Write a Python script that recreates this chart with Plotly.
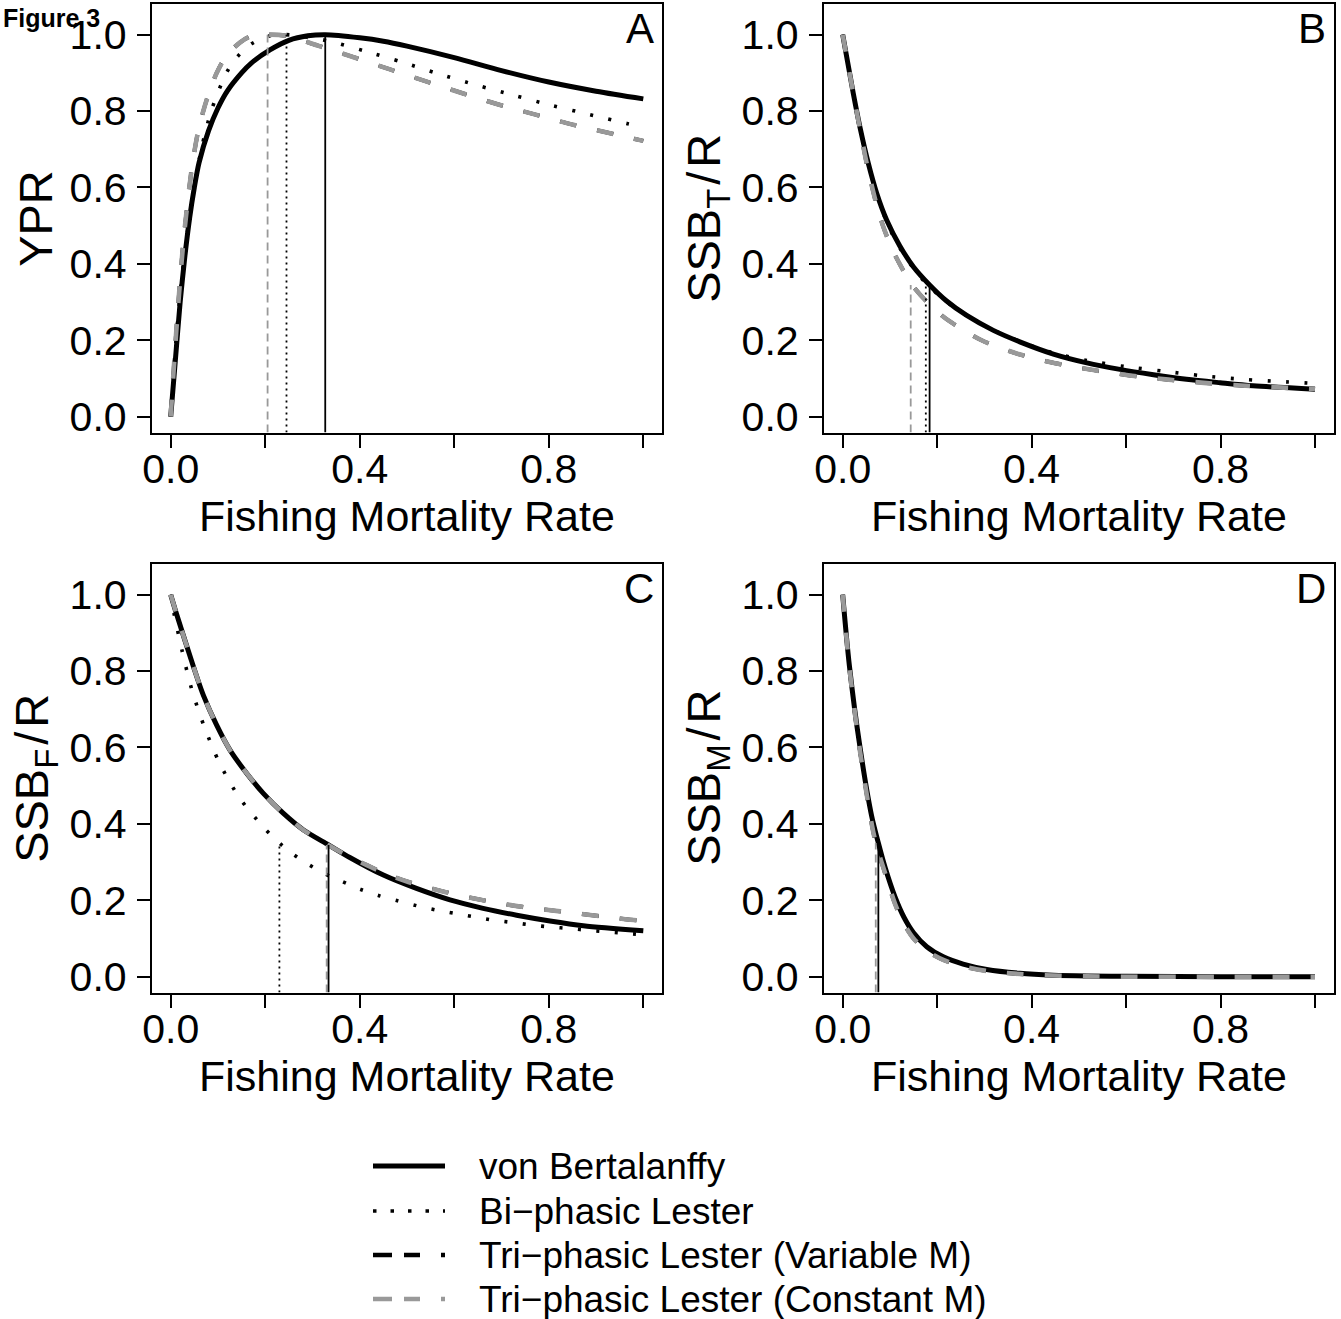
import plotly.graph_objects as go

FONT = "Liberation Sans, Arial, Helvetica, sans-serif"
GRAY = "#999999"

# ---------------- data ----------------
# Panel A : yield per recruit (relative)
F_A_vb = [0, 0.01, 0.02, 0.03, 0.04, 0.05, 0.06, 0.08, 0.10, 0.12, 0.15, 0.17, 0.21, 0.25, 0.29, 0.327,
          0.40, 0.45, 0.50, 0.60, 0.70, 0.80, 0.90, 1.00]
YPR_vb = [0, 0.15, 0.30, 0.42, 0.52, 0.60, 0.665, 0.748, 0.808, 0.853, 0.90, 0.925, 0.96, 0.985, 0.997, 1.0,
          0.992, 0.983, 0.97, 0.94, 0.906, 0.876, 0.852, 0.832]
F_A_bp = [0, 0.01, 0.024, 0.044, 0.066, 0.087, 0.118, 0.141, 0.171, 0.21, 0.245, 0.332, 0.411, 0.49, 0.568,
          0.647, 0.727, 0.806, 0.886, 0.967, 1.0]
YPR_bp = [0, 0.18, 0.37, 0.558, 0.707, 0.805, 0.90, 0.942, 0.976, 0.997, 1.0, 0.984, 0.957, 0.928, 0.897,
          0.868, 0.841, 0.815, 0.791, 0.767, 0.758]
F_A_cm = [0, 0.0127, 0.027, 0.044, 0.0585, 0.076, 0.097, 0.118, 0.147, 0.168, 0.205, 0.245, 0.31, 0.387,
          0.464, 0.542, 0.619, 0.697, 0.774, 0.852, 0.93, 1.0]
YPR_cm = [0, 0.24, 0.46, 0.645, 0.75, 0.829, 0.899, 0.945, 0.98, 0.995, 1.0, 0.997, 0.972, 0.941,
          0.909, 0.877, 0.846, 0.816, 0.79, 0.764, 0.742, 0.722]
F_A_vm, YPR_vm = F_A_cm, YPR_cm

# Panel B : total spawning stock biomass per recruit
F_B_vb = [0, 0.0226, 0.0367, 0.0543, 0.072, 0.093, 0.121, 0.15, 0.184, 0.22, 0.2625, 0.319, 0.375, 0.446,
          0.517, 0.587, 0.658, 0.728, 0.799, 0.869, 1.0]
SSBT_vb = [1.0, 0.845, 0.757, 0.663, 0.585, 0.515, 0.447, 0.392, 0.345, 0.303, 0.265, 0.226, 0.196, 0.164,
           0.141, 0.124, 0.11, 0.098, 0.089, 0.081, 0.072]
F_B_bp = [0, 0.0226, 0.0543, 0.093, 0.121, 0.15, 0.176, 0.2145, 0.2625, 0.319, 0.375, 0.446, 0.517, 0.6,
          0.681, 0.763, 0.846, 0.927, 1.0]
SSBT_bp = [1.0, 0.845, 0.66, 0.51, 0.442, 0.388, 0.35, 0.306, 0.264, 0.227, 0.197, 0.167, 0.147, 0.131,
           0.119, 0.107, 0.098, 0.092, 0.087]
F_B_cm = [0, 0.0226, 0.0367, 0.051, 0.07, 0.086, 0.105, 0.125, 0.144, 0.165, 0.2, 0.226, 0.294, 0.372,
          0.45, 0.531, 0.608, 0.69, 0.771, 0.852, 0.933, 1.0]
SSBT_cm = [1.0, 0.845, 0.752, 0.662, 0.563, 0.497, 0.438, 0.39, 0.35, 0.318, 0.275, 0.25, 0.2, 0.164,
           0.14, 0.122, 0.108, 0.097, 0.088, 0.081, 0.076, 0.073]
F_B_vm, SSBT_vm = F_B_cm, SSBT_cm

# Panel C : female spawning stock biomass per recruit
F_C_vb = [0, 0.0127, 0.048, 0.069, 0.097, 0.1255, 0.161, 0.196, 0.238, 0.281, 0.334, 0.379, 0.45, 0.52,
          0.591, 0.661, 0.732, 0.8025, 0.873, 1.0]
SSBF_vb = [1.0, 0.948, 0.812, 0.737, 0.659, 0.593, 0.532, 0.48, 0.428, 0.384, 0.345, 0.312, 0.266, 0.231,
           0.201, 0.179, 0.161, 0.146, 0.1335, 0.12]
F_C_bp = [0, 0.007, 0.0247, 0.045, 0.0712, 0.103, 0.144, 0.195, 0.23, 0.256, 0.29, 0.325, 0.363, 0.401,
          0.441, 0.48, 0.52, 0.56, 0.6, 0.641, 0.682, 0.723, 0.764, 0.805, 0.846, 0.886, 0.927, 0.968, 1.0]
SSBF_bp = [1.0, 0.951, 0.85, 0.75, 0.654, 0.56, 0.471, 0.393, 0.35, 0.323, 0.295, 0.27, 0.249, 0.229,
           0.212, 0.199, 0.186, 0.175, 0.166, 0.157, 0.148, 0.142, 0.135, 0.13, 0.126, 0.121, 0.117, 0.113, 0.11]
F_C_cm = [0, 0.0127, 0.048, 0.069, 0.097, 0.1255, 0.161, 0.196, 0.238, 0.281, 0.33, 0.379, 0.415, 0.45,
          0.503, 0.58, 0.661, 0.743, 0.824, 0.905, 0.985, 1.0]
SSBF_cm = [1.0, 0.948, 0.812, 0.737, 0.659, 0.593, 0.532, 0.48, 0.428, 0.384, 0.347, 0.313, 0.292, 0.272,
           0.248, 0.222, 0.2, 0.183, 0.171, 0.159, 0.148, 0.147]
F_C_vm, SSBF_vm = F_C_cm, SSBF_cm

# Panel D : male spawning stock biomass per recruit
F_D_vb = [0, 0.0141, 0.0367, 0.0614, 0.0755, 0.09, 0.111, 0.13, 0.15, 0.178, 0.213, 0.255, 0.305, 0.375,
          0.446, 0.517, 0.6, 0.8, 1.0]
SSBM_vb = [1.0, 0.815, 0.6, 0.42, 0.35, 0.285, 0.208, 0.155, 0.115, 0.0785, 0.052, 0.033, 0.019, 0.009,
           0.004, 0.002, 0.001, 0.0, 0.0]
F_D_cm = [0, 0.0141, 0.0367, 0.0614, 0.07, 0.09, 0.111, 0.13, 0.15, 0.178, 0.213, 0.255, 0.305, 0.375,
          0.446, 0.517, 0.6, 0.8, 1.0]
SSBM_cm = [1.0, 0.81, 0.59, 0.40, 0.35, 0.27, 0.19, 0.138, 0.1, 0.068, 0.044, 0.027, 0.015, 0.007,
           0.003, 0.001, 0.0, 0.0, 0.0]
F_D_vm, SSBM_vm = F_D_cm, SSBM_cm

# Reference points (vertical lines): [F, curve value]
REF_A = {"vb": [0.327, 1.0], "bp": [0.245, 1.0], "cm": [0.205, 1.0]}
REF_B = {"vb": [0.184, 0.345], "bp": [0.176, 0.35], "cm": [0.144, 0.345]}
REF_C = {"vb": [0.334, 0.345], "bp": [0.23, 0.35], "cm": [0.33, 0.345]}
REF_D = {"vb": [0.0755, 0.35], "cm": [0.07, 0.35]}

X_TICKS = [0, 0.2, 0.4, 0.6, 0.8, 1.0]
X_TICKTEXT = ["0.0", "", "0.4", "", "0.8", ""]
Y_TICKS = [0, 0.2, 0.4, 0.6, 0.8, 1.0]
Y_TICKTEXT = ["0.0", "0.2", "0.4", "0.6", "0.8", "1.0"]
X_RANGE = [-0.04, 1.04]
Y_RANGE = [-0.0416, 1.0816]

SERIES_NAMES = ["von Bertalanffy", "Bi\u2212phasic Lester",
                "Tri\u2212phasic Lester (Variable M)", "Tri\u2212phasic Lester (Constant M)"]
PANEL_LETTERS = ["A", "B", "C", "D"]
Y_TITLES = ["YPR", "SSB<sub>T</sub>\u200a/\u200aR", "SSB<sub>F</sub>\u200a/\u200aR", "SSB<sub>M</sub>\u200a/\u200aR"]
X_TITLE = "Fishing Mortality Rate"

# ---------------- styles ----------------
STY = {
    "vb": dict(color="black", width=5, dash="solid"),
    "bp": dict(color="black", width=3.6, dash="3px,15.5px"),
    "vm": dict(color="black", width=4.0, dash="17px,21px"),
    "cm": dict(color=GRAY, width=4.6, dash="17px,21px"),
}
VSTY = {
    "vb": dict(color="black", width=1.8, dash="solid"),
    "bp": dict(color="black", width=1.8, dash="2px,4px"),
    "cm": dict(color=GRAY, width=1.8, dash="8px,5px"),
}

W, H = 1341, 1319
# plot-area boxes in pixels: (left, right, top, bottom)
BOX = {
    1: (151.8, 662.2, 3.5, 432.6),
    2: (823.8, 1333.9, 3.5, 432.6),
    3: (151.8, 662.2, 563.5, 992.6),
    4: (823.8, 1333.9, 563.5, 992.6),
}

def px(x):
    return x / W

def py(y):
    return 1 - y / H

fig = go.Figure()

panels = [
    (1, [("vb", F_A_vb, YPR_vb), ("bp", F_A_bp, YPR_bp), ("vm", F_A_vm, YPR_vm), ("cm", F_A_cm, YPR_cm)], REF_A),
    (2, [("vb", F_B_vb, SSBT_vb), ("bp", F_B_bp, SSBT_bp), ("vm", F_B_vm, SSBT_vm), ("cm", F_B_cm, SSBT_cm)], REF_B),
    (3, [("vb", F_C_vb, SSBF_vb), ("bp", F_C_bp, SSBF_bp), ("vm", F_C_vm, SSBF_vm), ("cm", F_C_cm, SSBF_cm)], REF_C),
    (4, [("vb", F_D_vb, SSBM_vb), ("vm", F_D_vm, SSBM_vm), ("cm", F_D_cm, SSBM_cm)], REF_D),
]
name_of = {"vb": SERIES_NAMES[0], "bp": SERIES_NAMES[1], "vm": SERIES_NAMES[2], "cm": SERIES_NAMES[3]}

for k, series, refs in panels:
    xa = "x" if k == 1 else f"x{k}"
    ya = "y" if k == 1 else f"y{k}"
    for key, xs, ys in series:
        fig.add_trace(go.Scatter(x=xs, y=ys, mode="lines", name=name_of[key], xaxis=xa, yaxis=ya,
                                 line=dict(shape="spline", smoothing=0.8, **STY[key]),
                                 showlegend=False, hoverinfo="skip"))
    for key in ["cm", "bp", "vb"]:
        if key in refs:
            f, top = refs[key]
            fig.add_trace(go.Scatter(x=[f, f], y=[Y_RANGE[0], top], mode="lines", xaxis=xa, yaxis=ya,
                                     line=VSTY[key], showlegend=False, hoverinfo="skip"))

axis_common = dict(showgrid=False, zeroline=False, showline=True, mirror=True, linecolor="black",
                   linewidth=2, ticks="outside", ticklen=13, tickwidth=2, tickcolor="black",
                   tickfont=dict(size=41, color="black", family=FONT))
layout = dict(width=W, height=H, margin=dict(l=0, r=0, t=0, b=0, pad=0, autoexpand=False),
              paper_bgcolor="white", plot_bgcolor="white", showlegend=False,
              font=dict(family=FONT, color="black"))
for k in range(1, 5):
    l, r, t, b = BOX[k]
    xn = "xaxis" if k == 1 else f"xaxis{k}"
    yn = "yaxis" if k == 1 else f"yaxis{k}"
    ya = "y" if k == 1 else f"y{k}"
    xa = "x" if k == 1 else f"x{k}"
    layout[xn] = dict(domain=[px(l), px(r)], range=X_RANGE, anchor=ya, tickvals=X_TICKS,
                      ticktext=X_TICKTEXT, ticklabelstandoff=-14, automargin=False, **axis_common)
    layout[yn] = dict(domain=[py(b), py(t)], range=Y_RANGE, anchor=xa, tickvals=Y_TICKS,
                      ticktext=Y_TICKTEXT, ticklabelstandoff=2, automargin=False, **axis_common)
fig.update_layout(**layout)

ann = []
for k in range(1, 5):
    l, r, t, b = BOX[k]
    ann.append(dict(text=PANEL_LETTERS[k - 1], x=px(r - 6), y=py(t + 25), xref="paper", yref="paper",
                    xanchor="right", yanchor="middle", showarrow=False,
                    font=dict(size=42, color="black", family=FONT)))
    ann.append(dict(text=X_TITLE, x=px((l + r) / 2), y=py(b + 83), xref="paper", yref="paper",
                    xanchor="center", yanchor="middle", showarrow=False,
                    font=dict(size=43, color="black", family=FONT)))
    ann.append(dict(text=Y_TITLES[k - 1], x=px(l - 117), y=py((t + b) / 2), xref="paper", yref="paper",
                    xanchor="center", yanchor="middle", showarrow=False, textangle=-90,
                    font=dict(size=47, color="black", family=FONT)))

ann.append(dict(text="<b>Figure 3</b>", x=px(1), y=py(2), xref="paper", yref="paper",
                xanchor="left", yanchor="top", showarrow=False,
                font=dict(size=25, color="black", family=FONT)))

# legend (drawn manually, R style)
LEG_Y = [1166, 1211, 1255, 1299]
LEG_KEYS = ["vb", "bp", "vm", "cm"]
LEG_DASH = {"vb": "solid", "bp": "3.5px,14px", "vm": "19px,12px,16px,21px", "cm": "19px,12px,16px,21px"}
LEG_W = {"vb": 5, "bp": 3.6, "vm": 4.6, "cm": 4.6}
shapes = []
for key, yy, name in zip(LEG_KEYS, LEG_Y, SERIES_NAMES):
    shapes.append(dict(type="line", xref="paper", yref="paper", x0=px(373), x1=px(445), y0=py(yy), y1=py(yy),
                       line=dict(color=STY[key]["color"], width=LEG_W[key], dash=LEG_DASH[key])))
    ann.append(dict(text=name, x=px(477), y=py(yy), xref="paper", yref="paper", xanchor="left",
                    yanchor="middle", showarrow=False, font=dict(size=37, color="black", family=FONT)))

fig.update_layout(annotations=ann, shapes=shapes)
fig.write_html("out.html", config={"displayModeBar": False},
               post_script="document.body.style.margin='0';")
